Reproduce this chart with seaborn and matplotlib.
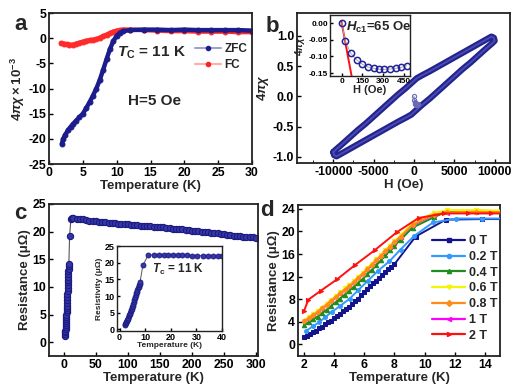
import matplotlib
matplotlib.use("Agg")
import matplotlib.pyplot as plt
import seaborn as sns
from matplotlib.lines import Line2D
from matplotlib.ticker import MultipleLocator, FormatStrFormatter

# ---------------- data ----------------
# (a) susceptibility vs temperature
zfc_T = [1.9, 2.1, 2.4, 2.8, 3.2, 3.6, 4.0, 4.5, 5.0, 5.5, 6.0, 6.5, 7.0, 7.5, 8.0, 8.5, 9.0, 9.5,
         10.0, 10.5, 11.0, 12, 14, 16, 18, 20, 22, 24, 26, 28, 30]
zfc_chi = [-21.0, -20.0, -19.2, -18.3, -17.6, -17.0, -16.4, -15.7, -15.0, -13.9, -12.7, -11.4, -10.0,
           -8.3, -6.3, -4.2, -2.2, -0.6, 0.5, 1.1, 1.4, 1.6, 1.7, 1.7, 1.6, 1.7, 1.6, 1.6, 1.6, 1.6, 1.5]
fc_T = [1.8, 2.2, 2.6, 3.0, 3.5, 4.0, 4.5, 5.0, 5.5, 6.0, 6.5, 7.0, 7.5, 8.0, 8.5, 9.0, 9.5, 10.0,
        10.5, 11.0, 12, 14, 16, 18, 20, 22, 24, 26, 28, 30]
fc_chi = [-1.0, -1.1, -1.2, -1.3, -1.3, -1.1, -0.9, -0.7, -0.5, -0.4, -0.3, -0.2, 0.1, 0.4, 0.7, 1.0,
          1.3, 1.5, 1.6, 1.7, 1.7, 1.6, 1.5, 1.4, 1.4, 1.3, 1.3, 1.3, 1.2, 1.2]

# (b) magnetization loop
loop_H = [-10000, -9900, -9600, -8000, -6000, -4000, -2000, -1000, -330, 0, 1000, 2000, 3000, 4000,
          5000, 6000, 7000, 8000, 9000, 9700, 10000, 9900, 9600, 8000, 6000, 4000, 2000, 1000, 330, 0,
          -1000, -2000, -3000, -4000, -5000, -6000, -7000, -8000, -9000, -9700, -10000]
loop_chi = [-0.92, -0.97, -0.99, -0.87, -0.72, -0.57, -0.42, -0.35, -0.30, -0.26, -0.14, -0.03, 0.09,
            0.21, 0.33, 0.45, 0.56, 0.68, 0.80, 0.88, 0.92, 0.97, 0.99, 0.87, 0.72, 0.57, 0.42, 0.35,
            0.30, 0.26, 0.14, 0.03, -0.09, -0.21, -0.33, -0.45, -0.56, -0.68, -0.80, -0.88, -0.92]
virgin_H = [0, 25, 66, 109, 150, 190, 231, 270, 310, 350, 390, 430, 471]
virgin_chi = [0.0, -0.054, -0.091, -0.111, -0.124, -0.132, -0.136, -0.139, -0.139, -0.138, -0.136,
              -0.133, -0.128]
hc1_fit_H = [-2, 72]
hc1_fit_chi = [0.004, -0.16]

# (c) resistance vs temperature
low_T = [2.0, 2.2, 2.4, 2.6, 2.8, 3.0, 3.2, 3.4, 3.6, 3.8, 4.0, 4.2, 4.4, 4.6, 4.8, 5.0, 5.2, 5.4,
         5.6, 5.8, 6.0, 6.2, 6.4, 6.6, 6.8, 7.0, 7.2, 7.4, 7.6, 7.8, 8.0]
low_R = [1.2, 1.5, 1.8, 2.1, 2.4, 2.8, 3.1, 3.5, 3.9, 4.2, 4.6, 5.0, 5.4, 5.8, 6.2, 6.6, 7.1, 7.6,
         8.1, 8.7, 9.3, 9.8, 10.3, 10.8, 11.3, 11.8, 12.3, 12.8, 13.3, 13.7, 14.2]
mid_T = [9.1, 11.1]
mid_R = [19.2, 22.2]
high_T = [13, 15, 20, 25, 30, 35, 40, 45, 50, 55, 60, 65, 70, 75, 80, 85, 90, 95, 100, 105, 110,
          115, 120, 125, 130, 135, 140, 145, 150, 155, 160, 165, 170, 175, 180, 185, 190, 195, 200,
          205, 210, 215, 220, 225, 230, 235, 240, 245, 250, 255, 260, 265, 270, 275, 280, 285, 290,
          295, 300]
high_R = [22.4, 22.4, 22.35, 22.3, 22.2, 22.1, 22.0, 21.95, 21.9, 21.8, 21.75, 21.7, 21.6, 21.55,
          21.5, 21.45, 21.4, 21.35, 21.3, 21.25, 21.2, 21.15, 21.1, 21.05, 21.0, 20.95, 20.9, 20.85,
          20.8, 20.75, 20.65, 20.6, 20.55, 20.5, 20.45, 20.4, 20.35, 20.3, 20.2, 20.15, 20.1, 20.0,
          19.95, 19.9, 19.8, 19.75, 19.7, 19.6, 19.5, 19.45, 19.4, 19.3, 19.25, 19.2, 19.1, 19.05,
          19.0, 18.95, 18.9]
inset_T = [13.3, 15.5, 17.3, 19.0, 21.0, 22.8, 24.4, 26.4, 28.4, 30.4, 32.4, 34.4, 36.4, 38.4, 40.0]
inset_R = [22.4, 22.4, 22.3, 22.3, 22.3, 22.2, 22.2, 22.2, 22.1, 22.1, 22.1, 22.1, 22.0, 22.0, 21.9]

# (d) resistance under field
field_labels = ["0 T", "0.2 T", "0.4 T", "0.6 T", "0.8 T", "1 T", "2 T"]
t0_T = low_T + [9.4, 11.4, 13.8, 15.2]
t0_R = low_R + [19.1, 22.1, 22.2, 22.2]
t02_T = [2.16, 2.6, 3.0, 3.4, 3.86, 4.4, 5.04, 5.6, 6.25, 6.9, 7.66, 8.4, 9.3, 10.56, 12.1, 13.8, 15.2]
t02_R = [2.4, 3.2, 3.9, 4.8, 5.75, 6.8, 8.1, 9.6, 11.3, 13.0, 14.7, 16.8, 19.2, 21.6, 22.3, 22.3, 22.3]
grid_T = [2.0, 2.3, 2.6, 2.9, 3.2, 3.5, 3.8, 4.1, 4.4, 4.7, 5.0, 5.3, 5.6, 5.9, 6.2, 6.5, 6.8, 7.1,
          7.4, 7.7, 8.0, 8.4, 9.2, 10.6, 11.5, 13.4, 15.2]
t04_R = [3.4, 3.9, 4.4, 4.9, 5.5, 6.1, 6.8, 7.4, 8.1, 8.8, 9.5, 10.2, 10.9, 11.6, 12.4, 13.2, 14.0,
         14.9, 15.8, 16.7, 17.5, 18.5, 20.7, 22.5, 23.6, 23.7, 23.6]
t06_R = [4.2, 4.8, 5.4, 5.9, 6.5, 7.2, 7.9, 8.5, 9.2, 9.9, 10.5, 11.2, 12.0, 12.7, 13.5, 14.3, 15.1,
         15.9, 16.7, 17.5, 18.3, 19.3, 21.5, 23.3, 23.8, 23.8, 23.7]
t08_R = [4.1, 4.6, 5.2, 5.7, 6.4, 7.0, 7.7, 8.4, 9.0, 9.7, 10.3, 11.0, 11.8, 12.5, 13.3, 14.1, 14.9,
         15.7, 16.5, 17.3, 18.1, 19.1, 21.2, 23.0, 23.4, 23.5, 23.4]
t1_R = [4.0, 4.5, 5.1, 5.6, 6.3, 6.9, 7.6, 8.3, 8.9, 9.6, 10.2, 10.9, 11.7, 12.4, 13.2, 14.0, 14.8,
        15.6, 16.4, 17.2, 18.0, 19.0, 21.1, 22.9, 23.3, 23.4, 23.3]
t2_T = [2.0, 2.29, 3.12, 4.19, 5.36, 6.7, 8.17, 9.6, 11.3, 12.9, 14.4, 15.2]
t2_R = [5.9, 7.9, 9.5, 11.5, 14.0, 16.7, 19.9, 22.4, 23.2, 23.2, 23.2, 23.2]

# ---------------- style ----------------
sns.set_style("ticks")
plt.rcParams.update({
    "font.family": ["Liberation Sans", "DejaVu Sans"],
    "font.weight": "bold",
    "axes.labelweight": "bold",
    "axes.unicode_minus": False,
    "mathtext.fontset": "custom",
    "mathtext.rm": "Liberation Sans:bold",
    "mathtext.bf": "Liberation Sans:bold",
    "mathtext.it": "Liberation Sans:bold:italic",
    "mathtext.sf": "Liberation Sans:bold",
    "xtick.direction": "in",
    "ytick.direction": "in",
    "axes.linewidth": 1.3,
    "axes.edgecolor": "#222222",
    "xtick.major.size": 3,
    "ytick.major.size": 3,
    "xtick.major.width": 1.0,
    "ytick.major.width": 1.0,
    "xtick.color": "black",
    "ytick.color": "black",
})

W, H = 520, 388
fig = plt.figure(figsize=(5.2, 3.88), dpi=100)


def box(l, t, r, b):
    return [l / W, 1 - b / H, (r - l) / W, (b - t) / H]


NAVY = "#1c1c8c"
TICK = 8.8
LAB = 9.5

# ---------- (a) ----------
axa = fig.add_axes(box(49, 13, 252, 164))
sns.lineplot(x=fc_T, y=fc_chi, ax=axa, sort=False, estimator=None, color="#ff2a2a", lw=3.2,
             marker="o", ms=3.5, mec="#ff2a2a", legend=False)
sns.lineplot(x=zfc_T, y=zfc_chi, ax=axa, sort=False, estimator=None, color=NAVY, lw=3.2,
             marker="o", ms=3.5, mec=NAVY, legend=False)
axa.set_xlim(0, 30)
axa.set_ylim(-25, 5)
axa.xaxis.set_major_locator(MultipleLocator(5))
axa.yaxis.set_major_locator(MultipleLocator(5))
axa.set_xlabel("Temperature (K)", fontsize=LAB, labelpad=1)
axa.set_ylabel(r"$4\pi\chi\times10^{-3}$", fontsize=LAB, labelpad=1)
axa.tick_params(labelsize=TICK, pad=2)
axa.text(0.335, 0.735, r"$T_{\rm C}$ = 11 K", transform=axa.transAxes, fontsize=11,
         ha="left", va="center")
axa.text(0.39, 0.42, "H=5 Oe", transform=axa.transAxes, fontsize=11, ha="left", va="center")
ha = [Line2D([], [], color="#a0a2d4", lw=1.5, marker="o", ms=3, mfc=NAVY, mec=NAVY),
      Line2D([], [], color="#ffadad", lw=1.5, marker="o", ms=3, mfc="#ff2020", mec="#ff2020")]
axa.legend(ha, ["ZFC", "FC"], loc="upper left", bbox_to_anchor=(0.72, 0.80), frameon=False,
           fontsize=8.5, handlelength=2.2, handletextpad=0.3, borderpad=0, borderaxespad=0,
           labelspacing=0.35)

# ---------- (b) ----------
axb = fig.add_axes(box(297, 13, 510, 163))
sns.lineplot(x=loop_H, y=loop_chi, ax=axb, sort=False, estimator=None, color="#24248e", lw=4.5,
             legend=False)
sns.lineplot(x=loop_H, y=loop_chi, ax=axb, sort=False, estimator=None, color="#4b4bb4", lw=1.3,
             legend=False)
sns.lineplot(x=virgin_H, y=virgin_chi, ax=axb, sort=False, estimator=None, color="#8080c0", lw=0.8,
             marker="o", ms=3, mfc="none", mec="#6a6ab8", mew=0.8, legend=False)
axb.set_xlim(-14500, 11900)
axb.set_ylim(-1.1, 1.38)
axb.set_xticks([-10000, -5000, 0, 5000, 10000])
axb.xaxis.set_minor_locator(MultipleLocator(2500))
axb.set_yticks([-1.0, -0.5, 0.0, 0.5, 1.0])
axb.yaxis.set_major_formatter(FormatStrFormatter("%.1f"))
axb.tick_params(which="minor", direction="in", length=2)
axb.set_xlabel("H (Oe)", fontsize=LAB, labelpad=1)
axb.set_ylabel(r"$4\pi\chi$", fontsize=LAB, labelpad=1)
axb.tick_params(labelsize=TICK, pad=2)

# inset b
axbi = fig.add_axes(box(330, 15, 410, 76))
sns.lineplot(x=virgin_H, y=virgin_chi, ax=axbi, sort=False, estimator=None, color="#aaaaaa", lw=0.7,
             marker="o", ms=4.5, mfc="none", mec="#22229a", mew=1.1, legend=False)
sns.lineplot(x=hc1_fit_H, y=hc1_fit_chi, ax=axbi, sort=False, estimator=None, color="#ff1010",
             lw=1.4, legend=False, zorder=1)
axbi.set_xlim(-85, 495)
axbi.set_ylim(-0.159, 0.024)
axbi.set_xticks([0, 150, 300, 450])
axbi.set_yticks([0.0, -0.05, -0.10, -0.15])
axbi.yaxis.set_major_formatter(FormatStrFormatter("%.2f"))
axbi.tick_params(labelsize=6, pad=1.2, length=2)
axbi.set_xlabel("H (Oe)", fontsize=8, labelpad=0)
axbi.set_ylabel(r"$4\pi\chi$", fontsize=7)
axbi.yaxis.set_label_coords(-0.29, 0.5)
for s in axbi.spines.values():
    s.set_linewidth(1.0)
axbi.text(0.20, 0.80, r"$H_{\rm c1}$=65 Oe", transform=axbi.transAxes, fontsize=9.5,
          ha="left", va="center")

# ---------- (c) ----------
axc = fig.add_axes(box(49, 204, 258, 356))
c_T = low_T + mid_T + high_T
c_R = low_R + mid_R + high_R
sns.lineplot(x=c_T, y=c_R, ax=axc, sort=False, estimator=None, color="#555555", lw=0.8,
             marker="o", ms=4.5, mfc="#3636a8", mec="#1a1a80", mew=0.8, legend=False)
axc.set_xlim(-23, 303)
axc.set_ylim(-2.5, 25)
axc.xaxis.set_major_locator(MultipleLocator(50))
axc.yaxis.set_major_locator(MultipleLocator(5))
axc.set_xlabel("Temperature (K)", fontsize=LAB, labelpad=1)
axc.set_ylabel("Resistance (μΩ)", fontsize=LAB, labelpad=1)
axc.tick_params(labelsize=TICK, pad=2)

# inset c
axci = fig.add_axes(box(117, 246, 222, 331))
ci_T = low_T + mid_T + inset_T
ci_R = low_R + mid_R + inset_R
sns.lineplot(x=ci_T, y=ci_R, ax=axci, sort=False, estimator=None, color="#555555", lw=0.7,
             marker="o", ms=3.6, mfc="#3636a8", mec="#1a1a80", mew=0.6, legend=False)
axci.set_xlim(-1, 40)
axci.set_ylim(-0.5, 25)
axci.xaxis.set_major_locator(MultipleLocator(10))
axci.yaxis.set_major_locator(MultipleLocator(5))
axci.tick_params(labelsize=6.5, pad=1.5, length=2)
axci.set_xlabel("Temperature (K)", fontsize=6, labelpad=0)
axci.set_ylabel("Resistivity (μΩ)", fontsize=6, labelpad=1)
for s in axci.spines.values():
    s.set_linewidth(1.0)
axci.text(0.33, 0.72, r"$T_{\rm c}$ = 11 K", transform=axci.transAxes, fontsize=8.5,
          ha="left", va="center")

# ---------- (d) ----------
axd = fig.add_axes(box(298, 205, 500, 356))
series = [
    ("0 T", t0_T, t0_R, "#14148a", "s", 2.8, 5),
    ("0.2 T", t02_T, t02_R, "#3399ff", "o", 2.8, 5),
    ("0.4 T", grid_T, t04_R, "#1e8c1e", "^", 3.2, 5),
    ("1 T", grid_T, t1_R, "#ff00ff", "<", 3.0, 4),
    ("0.6 T", grid_T, t06_R, "#f5f500", "v", 3.0, 6),
    ("0.8 T", grid_T, t08_R, "#ff8c1a", "D", 2.5, 7),
    ("2 T", t2_T, t2_R, "#ff1010", ">", 3.0, 8),
]
handles = {}
for lab, xs, ys, col, mk, ms, z in series:
    sns.lineplot(x=xs, y=ys, ax=axd, sort=False, estimator=None, color=col, lw=1.4, marker=mk,
                 ms=ms, mec=col, legend=False, zorder=z)
    handles[lab] = Line2D([], [], color=col, lw=1.6, marker=mk, ms=3, mec=col)
axd.set_xlim(1.6, 15)
axd.set_ylim(-2.1, 24.7)
axd.set_xticks([2, 4, 6, 8, 10, 12, 14])
axd.set_yticks([0, 4, 8, 12, 16, 20, 24])
axd.set_xlabel("Temperature (K)", fontsize=LAB, labelpad=1)
axd.set_ylabel("Resistance (μΩ)", fontsize=LAB, labelpad=1)
axd.tick_params(labelsize=TICK, pad=2)
axd.legend([handles[k] for k in field_labels], field_labels, loc="upper left",
           bbox_to_anchor=(0.665, 0.80), frameon=False, fontsize=9, handlelength=2.6,
           handletextpad=0.3, borderpad=0, borderaxespad=0, labelspacing=0.3)

# panel letters
for letter, x, y in [("a", 21, 25), ("b", 272, 26), ("c", 20, 213), ("d", 267, 211)]:
    fig.text(x / W, 1 - y / H, letter, fontsize=16, fontweight="bold", ha="center", va="center")

fig.savefig("out.png", dpi=100)
